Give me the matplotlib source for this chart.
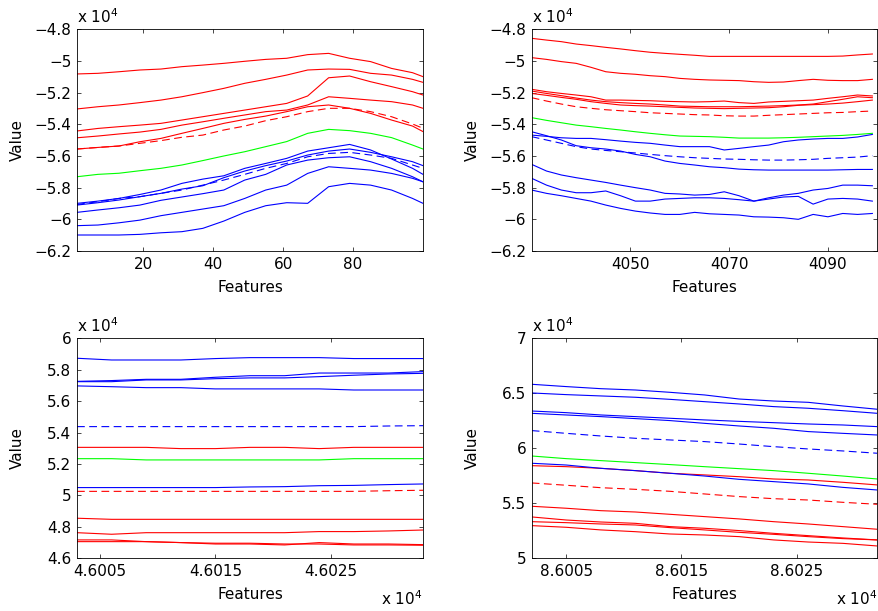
import numpy as np
import matplotlib
matplotlib.use('Agg')
import matplotlib.pyplot as plt
from matplotlib.ticker import FuncFormatter, FixedLocator

plt.rcParams['font.family'] = ['DejaVu Sans']
plt.rcParams['mathtext.fontset'] = 'dejavusans'

SCALE = 1e4  # every value below is in units of 10^4, as on the axes

# ---- panel 1: features 1..100
x1 = [1, 7, 13, 19, 25, 31, 37, 43, 49, 55, 61, 67, 73, 79, 85, 91, 97, 100]
p1_red = [
    [-5.082, -5.078, -5.068, -5.057, -5.051, -5.036, -5.026, -5.015, -5.002, -4.990, -4.983, -4.960, -4.952, -4.983, -5.004, -5.047, -5.074, -5.099],
    [-5.303, -5.289, -5.278, -5.263, -5.247, -5.226, -5.200, -5.173, -5.141, -5.116, -5.089, -5.057, -5.051, -5.053, -5.078, -5.089, -5.116, -5.135],
    [-5.442, -5.426, -5.415, -5.405, -5.394, -5.373, -5.352, -5.331, -5.310, -5.289, -5.268, -5.221, -5.106, -5.095, -5.131, -5.162, -5.194, -5.215],
    [-5.485, -5.474, -5.461, -5.449, -5.432, -5.405, -5.384, -5.362, -5.341, -5.320, -5.310, -5.278, -5.226, -5.236, -5.247, -5.257, -5.278, -5.299],
    [-5.556, -5.546, -5.537, -5.510, -5.489, -5.457, -5.426, -5.394, -5.369, -5.348, -5.320, -5.289, -5.278, -5.299, -5.331, -5.373, -5.411, -5.446],
]
p1_red_dash = [-5.556, -5.546, -5.537, -5.520, -5.503, -5.482, -5.468, -5.436, -5.411, -5.377, -5.352, -5.320, -5.299, -5.299, -5.320, -5.352, -5.398, -5.425]
p1_green = [-5.731, -5.716, -5.709, -5.693, -5.678, -5.657, -5.629, -5.600, -5.573, -5.541, -5.509, -5.457, -5.432, -5.440, -5.457, -5.484, -5.531, -5.556]
p1_blue = [
    [-5.899, -5.885, -5.868, -5.843, -5.815, -5.773, -5.746, -5.725, -5.678, -5.647, -5.615, -5.569, -5.548, -5.527, -5.562, -5.619, -5.678, -5.716],
    [-5.910, -5.895, -5.878, -5.857, -5.836, -5.809, -5.788, -5.737, -5.695, -5.661, -5.632, -5.594, -5.569, -5.556, -5.577, -5.605, -5.636, -5.661],
    [-5.956, -5.941, -5.927, -5.910, -5.880, -5.859, -5.838, -5.815, -5.752, -5.716, -5.657, -5.626, -5.611, -5.605, -5.636, -5.678, -5.731, -5.763],
    [-6.040, -6.036, -6.022, -6.005, -5.977, -5.956, -5.935, -5.914, -5.868, -5.815, -5.784, -5.710, -5.668, -5.678, -5.689, -5.710, -5.741, -5.763],
    [-6.099, -6.099, -6.099, -6.095, -6.085, -6.078, -6.057, -6.011, -5.956, -5.914, -5.895, -5.899, -5.794, -5.773, -5.784, -5.815, -5.868, -5.899],
]
p1_blue_dash = [-5.906, -5.889, -5.868, -5.857, -5.836, -5.815, -5.784, -5.752, -5.716, -5.678, -5.647, -5.605, -5.584, -5.577, -5.594, -5.615, -5.657, -5.678]

# ---- panel 2: features 4030..4099
x2 = list(range(4030, 4100, 3))
p2_red = [
    [-4.857, -4.868, -4.878, -4.893, -4.903, -4.914, -4.924, -4.935, -4.945, -4.952, -4.958, -4.964, -4.971, -4.971, -4.971, -4.971, -4.971, -4.971, -4.971, -4.971, -4.971, -4.969, -4.962, -4.956],
    [-4.979, -4.990, -5.004, -5.015, -5.040, -5.068, -5.078, -5.084, -5.093, -5.099, -5.110, -5.116, -5.120, -5.122, -5.124, -5.131, -5.135, -5.133, -5.124, -5.116, -5.122, -5.124, -5.124, -5.116],
    [-5.179, -5.194, -5.205, -5.215, -5.226, -5.247, -5.247, -5.249, -5.251, -5.255, -5.257, -5.259, -5.257, -5.253, -5.263, -5.268, -5.259, -5.255, -5.251, -5.247, -5.236, -5.226, -5.215, -5.221],
    [-5.190, -5.205, -5.219, -5.234, -5.247, -5.257, -5.263, -5.268, -5.272, -5.278, -5.285, -5.287, -5.289, -5.289, -5.289, -5.287, -5.285, -5.282, -5.278, -5.272, -5.257, -5.242, -5.226, -5.232],
    [-5.205, -5.217, -5.230, -5.242, -5.257, -5.268, -5.278, -5.282, -5.285, -5.289, -5.293, -5.297, -5.299, -5.301, -5.299, -5.297, -5.295, -5.289, -5.280, -5.276, -5.272, -5.266, -5.257, -5.247],
]
p2_red_dash = [-5.232, -5.253, -5.272, -5.289, -5.299, -5.308, -5.314, -5.320, -5.327, -5.331, -5.335, -5.339, -5.341, -5.346, -5.348, -5.348, -5.343, -5.339, -5.335, -5.331, -5.327, -5.325, -5.320, -5.316]
p2_green = [-5.358, -5.375, -5.390, -5.405, -5.415, -5.426, -5.436, -5.447, -5.457, -5.466, -5.474, -5.476, -5.478, -5.482, -5.487, -5.487, -5.487, -5.485, -5.482, -5.478, -5.474, -5.470, -5.464, -5.457]
p2_blue = [
    [-5.468, -5.476, -5.485, -5.489, -5.489, -5.497, -5.506, -5.514, -5.520, -5.531, -5.541, -5.541, -5.541, -5.562, -5.552, -5.541, -5.531, -5.510, -5.499, -5.493, -5.489, -5.489, -5.480, -5.464],
    [-5.447, -5.472, -5.499, -5.535, -5.548, -5.556, -5.569, -5.590, -5.605, -5.632, -5.647, -5.657, -5.668, -5.674, -5.683, -5.687, -5.689, -5.689, -5.689, -5.689, -5.689, -5.687, -5.685, -5.685],
    [-5.653, -5.695, -5.720, -5.737, -5.752, -5.767, -5.784, -5.800, -5.815, -5.836, -5.840, -5.847, -5.843, -5.826, -5.851, -5.885, -5.864, -5.847, -5.836, -5.815, -5.805, -5.784, -5.784, -5.788],
    [-5.741, -5.784, -5.815, -5.832, -5.832, -5.821, -5.851, -5.885, -5.885, -5.872, -5.868, -5.864, -5.864, -5.868, -5.876, -5.885, -5.872, -5.859, -5.855, -5.904, -5.872, -5.868, -5.872, -5.885],
    [-5.815, -5.836, -5.851, -5.868, -5.885, -5.910, -5.931, -5.948, -5.960, -5.969, -5.969, -5.956, -5.965, -5.969, -5.973, -5.984, -5.986, -5.990, -6.000, -5.969, -5.984, -5.963, -5.969, -5.963],
]
p2_blue_dash = [-5.478, -5.499, -5.520, -5.541, -5.556, -5.565, -5.573, -5.581, -5.590, -5.598, -5.605, -5.611, -5.615, -5.619, -5.621, -5.624, -5.626, -5.626, -5.624, -5.621, -5.615, -5.611, -5.607, -5.598]

# ---- panel 3: features 46003..46033
x3 = list(range(46003, 46034, 3))
p3_red = [
    [5.306, 5.306, 5.306, 5.298, 5.298, 5.306, 5.306, 5.298, 5.306, 5.306, 5.306],
    [4.855, 4.848, 4.848, 4.848, 4.848, 4.848, 4.848, 4.848, 4.848, 4.848, 4.848],
    [4.763, 4.753, 4.763, 4.763, 4.763, 4.763, 4.763, 4.770, 4.770, 4.774, 4.780],
    [4.717, 4.717, 4.706, 4.700, 4.691, 4.691, 4.685, 4.700, 4.691, 4.691, 4.687],
    [4.706, 4.706, 4.706, 4.700, 4.696, 4.696, 4.691, 4.691, 4.685, 4.685, 4.683],
]
p3_red_dash = [5.026, 5.026, 5.026, 5.026, 5.026, 5.026, 5.026, 5.026, 5.026, 5.030, 5.033]
p3_green = [5.234, 5.234, 5.226, 5.226, 5.226, 5.226, 5.226, 5.226, 5.234, 5.234, 5.234]
p3_blue = [
    [5.873, 5.862, 5.862, 5.862, 5.871, 5.877, 5.877, 5.877, 5.871, 5.871, 5.871],
    [5.726, 5.731, 5.739, 5.739, 5.752, 5.762, 5.762, 5.779, 5.779, 5.779, 5.788],
    [5.724, 5.724, 5.735, 5.735, 5.743, 5.748, 5.748, 5.756, 5.765, 5.773, 5.777],
    [5.697, 5.692, 5.686, 5.686, 5.678, 5.678, 5.678, 5.678, 5.671, 5.671, 5.671],
    [5.050, 5.050, 5.050, 5.050, 5.050, 5.054, 5.056, 5.062, 5.064, 5.069, 5.073],
]
p3_blue_dash = [5.438, 5.438, 5.438, 5.438, 5.438, 5.438, 5.438, 5.438, 5.438, 5.442, 5.444]

# ---- panel 4: features 86002..86032
x4 = list(range(86002, 86033, 3))
p4_red = [
    [5.842, 5.833, 5.818, 5.797, 5.773, 5.758, 5.742, 5.721, 5.712, 5.691, 5.667],
    [5.473, 5.455, 5.433, 5.421, 5.400, 5.379, 5.358, 5.333, 5.312, 5.288, 5.264],
    [5.376, 5.348, 5.330, 5.318, 5.288, 5.273, 5.252, 5.227, 5.206, 5.185, 5.167],
    [5.333, 5.324, 5.312, 5.303, 5.279, 5.258, 5.236, 5.218, 5.197, 5.179, 5.167],
    [5.297, 5.282, 5.258, 5.242, 5.221, 5.212, 5.197, 5.167, 5.148, 5.136, 5.112],
]
p4_red_dash = [5.685, 5.664, 5.642, 5.627, 5.609, 5.585, 5.561, 5.542, 5.530, 5.509, 5.491]
p4_green = [5.930, 5.906, 5.888, 5.870, 5.852, 5.833, 5.815, 5.797, 5.773, 5.748, 5.721]
p4_blue = [
    [6.582, 6.561, 6.542, 6.530, 6.509, 6.485, 6.448, 6.430, 6.418, 6.385, 6.355],
    [6.503, 6.488, 6.476, 6.464, 6.445, 6.424, 6.403, 6.379, 6.364, 6.342, 6.318],
    [6.339, 6.324, 6.303, 6.288, 6.273, 6.258, 6.245, 6.233, 6.221, 6.212, 6.197],
    [6.318, 6.303, 6.288, 6.270, 6.252, 6.227, 6.203, 6.182, 6.152, 6.136, 6.121],
    [5.864, 5.848, 5.818, 5.797, 5.773, 5.748, 5.718, 5.697, 5.676, 5.645, 5.621],
]
p4_blue_dash = [6.161, 6.136, 6.112, 6.091, 6.076, 6.061, 6.039, 6.015, 5.994, 5.976, 5.955]

panels = [
    dict(x=x1, red=p1_red, rdash=p1_red_dash, green=p1_green, blue=p1_blue, bdash=p1_blue_dash,
         xlim=(1, 100), xticks=[20, 40, 60, 80], ylim=(-6.2, -4.8), ystep=0.2, xsci=False),
    dict(x=x2, red=p2_red, rdash=p2_red_dash, green=p2_green, blue=p2_blue, bdash=p2_blue_dash,
         xlim=(4030, 4100), xticks=[4050, 4070, 4090], ylim=(-6.2, -4.8), ystep=0.2, xsci=False),
    dict(x=x3, red=p3_red, rdash=p3_red_dash, green=p3_green, blue=p3_blue, bdash=p3_blue_dash,
         xlim=(46003, 46033), xticks=[46005, 46015, 46025], ylim=(4.6, 6.0), ystep=0.2, xsci=True),
    dict(x=x4, red=p4_red, rdash=p4_red_dash, green=p4_green, blue=p4_blue, bdash=p4_blue_dash,
         xlim=(86002, 86032), xticks=[86005, 86015, 86025], ylim=(5.0, 7.0), ystep=0.5, xsci=True),
]

W, H = 879, 611
boxes = [(77, 29.3, 423, 251), (531.7, 29.3, 877.3, 251),
         (77, 338.3, 423, 558.3), (531.7, 338.3, 877.3, 558.3)]
FS = 11

def fmt_num(v):
    s = '%g' % round(v, 4)
    return s.replace('-', '\u2212')

fig = plt.figure(figsize=(W / 100, H / 100), dpi=100)
lw = 0.8
dash = (0, (7, 4))
for p, (l, t, r, b) in zip(panels, boxes):
    ax = fig.add_axes([l / W, 1 - b / H, (r - l) / W, (b - t) / H])
    x = np.array(p['x'])
    for ys in p['red']:
        ax.plot(x, np.array(ys) * SCALE, color='#ff0000', lw=lw)
    ax.plot(x, np.array(p['rdash']) * SCALE, color='#ff0000', lw=lw, linestyle=dash)
    ax.plot(x, np.array(p['green']) * SCALE, color='#00ff00', lw=lw)
    for ys in p['blue']:
        ax.plot(x, np.array(ys) * SCALE, color='#0000ff', lw=lw)
    ax.plot(x, np.array(p['bdash']) * SCALE, color='#0000ff', lw=lw, linestyle=dash)

    ax.set_xlim(*p['xlim'])
    y0, y1 = p['ylim']
    ax.set_ylim(y0 * SCALE, y1 * SCALE)
    yt = np.arange(y0, y1 + 1e-9, p['ystep'])
    ax.yaxis.set_major_locator(FixedLocator(yt * SCALE))
    ax.yaxis.set_major_formatter(FuncFormatter(lambda v, pos: fmt_num(v / SCALE)))
    ax.xaxis.set_major_locator(FixedLocator(p['xticks']))
    if p['xsci']:
        ax.xaxis.set_major_formatter(FuncFormatter(lambda v, pos: '%.4f' % (v / SCALE)))
        ax.text(1.0, -0.214, r'x 10$^{4}$', transform=ax.transAxes,
                ha='right', va='baseline', fontsize=FS)
    else:
        ax.xaxis.set_major_formatter(FuncFormatter(lambda v, pos: '%d' % v))

    ax.text(0.0, 1.027, r'x 10$^{4}$', transform=ax.transAxes,
            ha='left', va='baseline', fontsize=FS)

    ax.tick_params(direction='in', top=True, right=True, length=3, width=0.5,
                   labelsize=FS, pad=4)
    for sp in ax.spines.values():
        sp.set_linewidth(0.6)
    ax.set_xlabel('Features', fontsize=FS)
    ax.set_ylabel('Value', fontsize=FS)
    ax.xaxis.set_label_coords(0.5, -0.13)
    ax.yaxis.set_label_coords(-0.15, 0.5)

fig.savefig('out.png', dpi=100)
